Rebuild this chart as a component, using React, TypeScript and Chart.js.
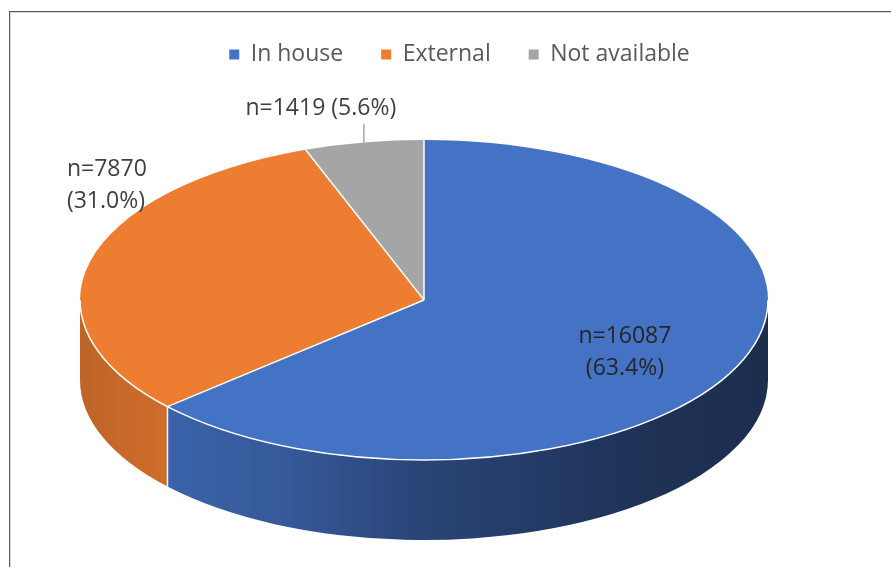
import React, { useEffect, useRef } from 'react';
import { Chart, registerables } from 'chart.js';

Chart.register(...registerables);

// ---- data ----
const categories = ['In house', 'External', 'Not available'];
const counts = [16087, 7870, 1419];
const percentLabels = ['63.4%', '31.0%', '5.6%'];
const sliceColors = ['#4472c4', '#ed7d31', '#a5a5a5'];

// ---- layout / style constants ----
const CX = 424;
const CY = 300;
const RX = 344;
const RY = 160;
const DEPTH = 80;
const FONT = '"Open Sans", "Noto Sans", sans-serif';

// side shading: [position across ellipse width, brightness factor]
const shadeStops: [number, number][] = [
  [0, 0.8],
  [0.12, 0.87],
  [0.3, 0.78],
  [0.5, 0.6],
  [0.8, 0.45],
  [1, 0.4],
];

// label placement in ellipse-normalised coordinates
const labelPlacement = [
  { nx: 0.584, ny: 0.33, align: 'center', split: true, color: '#262626', leader: false },
  { nx: -1.038, ny: -0.716, align: 'left', split: true, color: '#404040', leader: false },
  { nx: -0.3, ny: -1.196, align: 'center', split: false, color: '#404040', leader: true },
];

function shade(hex: string, f: number) {
  const n = parseInt(hex.slice(1), 16);
  const r = Math.round(((n >> 16) & 255) * f);
  const g = Math.round(((n >> 8) & 255) * f);
  const b = Math.round((n & 255) * f);
  return `rgb(${r},${g},${b})`;
}

const pie3d = {
  id: 'pie3d',
  beforeDatasetsDraw(chart: any) {
    const ctx = chart.ctx as CanvasRenderingContext2D;
    const arcs = chart.getDatasetMeta(0).data as any[];
    if (!arcs.length) return;
    // extruded sides
    arcs.forEach((arc, i) => {
      const a1 = Math.max(arc.startAngle, 0);
      const a2 = Math.min(arc.endAngle, Math.PI);
      if (a2 <= a1) return;
      const g = ctx.createLinearGradient(CX - RX, 0, CX + RX, 0);
      shadeStops.forEach(([t, f]) => g.addColorStop(t, shade(sliceColors[i], f)));
      ctx.beginPath();
      ctx.ellipse(CX, CY, RX, RY, 0, a1, a2, false);
      ctx.ellipse(CX, CY + DEPTH, RX, RY, 0, a2, a1, true);
      ctx.closePath();
      ctx.fillStyle = g;
      ctx.fill();
    });
    // separators on side
    ctx.save();
    ctx.strokeStyle = '#ffffff';
    ctx.lineWidth = 1.5;
    arcs.forEach((arc) => {
      const a = arc.startAngle;
      if (a > 0 && a < Math.PI) {
        const x = CX + RX * Math.cos(a);
        const y = CY + RY * Math.sin(a);
        ctx.beginPath();
        ctx.moveTo(x, y);
        ctx.lineTo(x, y + DEPTH);
        ctx.stroke();
      }
    });
    ctx.restore();
    // transform so the library's arcs become the elliptical top face
    const a0 = arcs[0];
    const r = a0.outerRadius;
    ctx.save();
    ctx.translate(CX, CY);
    ctx.scale(RX / r, RY / r);
    ctx.translate(-a0.x, -a0.y);
  },
  afterDatasetsDraw(chart: any) {
    const ctx = chart.ctx as CanvasRenderingContext2D;
    const arcs = chart.getDatasetMeta(0).data as any[];
    if (!arcs.length) return;
    ctx.restore();
    // white rim and radial separators
    ctx.save();
    ctx.strokeStyle = '#ffffff';
    ctx.lineWidth = 1.5;
    ctx.beginPath();
    ctx.ellipse(CX, CY, RX, RY, 0, 0, Math.PI, false);
    ctx.stroke();
    arcs.forEach((arc) => {
      const a = arc.startAngle;
      ctx.beginPath();
      ctx.moveTo(CX, CY);
      ctx.lineTo(CX + RX * Math.cos(a), CY + RY * Math.sin(a));
      ctx.stroke();
    });
    ctx.restore();
    // data labels
    ctx.save();
    ctx.font = `23px ${FONT}`;
    ctx.textBaseline = 'middle';
    arcs.forEach((arc, i) => {
      const p = labelPlacement[i];
      const x = CX + RX * p.nx;
      const y = CY + RY * p.ny;
      const l1 = `n=${counts[i]}`;
      const l2 = `(${percentLabels[i]})`;
      ctx.fillStyle = p.color;
      ctx.textAlign = p.align as CanvasTextAlign;
      if (p.split) {
        ctx.fillText(l1, x, y - 16);
        ctx.fillText(l2, x, y + 16);
      } else {
        ctx.fillText(`${l1} ${l2}`, x, y);
      }
      if (p.leader) {
        const mid = (arc.startAngle + arc.endAngle) / 2;
        const ex = CX + RX * Math.cos(mid);
        const ey = CY + RY * Math.sin(mid);
        ctx.strokeStyle = '#a6a6a6';
        ctx.lineWidth = 1.5;
        ctx.beginPath();
        ctx.moveTo(ex, y + 15);
        ctx.lineTo(ex, ey);
        ctx.stroke();
      }
    });
    ctx.restore();
  },
};

export default function App() {
  const ref = useRef<HTMLCanvasElement>(null);
  useEffect(() => {
    if (!ref.current) return;
    const chart = new Chart(ref.current, {
      type: 'pie',
      data: {
        labels: categories,
        datasets: [
          {
            data: counts,
            backgroundColor: sliceColors,
            borderWidth: 0,
            clip: false as any,
          },
        ],
      },
      options: {
        responsive: false,
        animation: false,
        events: [],
        layout: { padding: { top: 5, left: 28, right: 0, bottom: 0 } },
        plugins: {
          tooltip: { enabled: false },
          legend: {
            position: 'top',
            labels: {
              boxWidth: 10,
              boxHeight: 10,
              padding: 38,
              color: '#595959',
              font: { family: FONT, size: 23 },
            },
          },
        },
      },
      plugins: [pie3d],
    });
    return () => chart.destroy();
  }, []);
  return (
    <div style={{ position: 'fixed', left: 0, top: 0, width: 891, height: 567, overflow: 'hidden', background: '#fff' }}>
      <div
        style={{
          position: 'absolute',
          left: 9,
          top: 11,
          width: 1000,
          height: 700,
          borderTop: '1px solid #595959',
          borderLeft: '1px solid #595959',
          boxShadow: 'inset 1px 1px 0 #dcdcdc',
        }}
      />
      <canvas ref={ref} width={891} height={567} style={{ position: 'absolute', left: 0, top: 0, width: 891, height: 567 }} />
    </div>
  );
}
